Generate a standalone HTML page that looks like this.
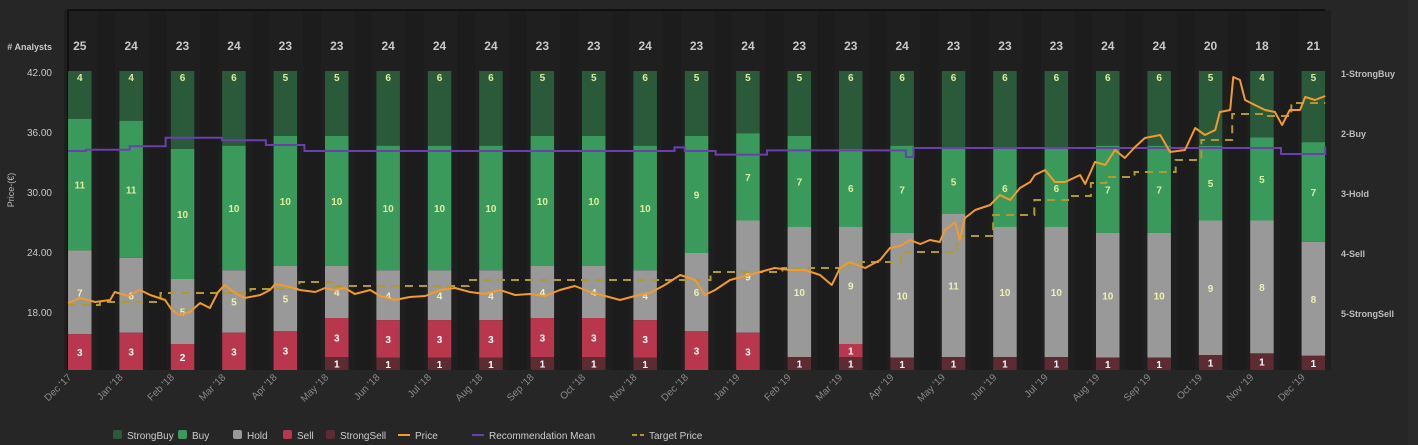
<!DOCTYPE html>
<html><head><meta charset="utf-8"><style>
html,body{margin:0;padding:0;background:#262626;}
svg{display:block;font-family:"Liberation Sans",Arial,sans-serif;}
</style></head><body>
<svg id="c" width="1418" height="445" viewBox="0 0 1418 445"></svg>
<script>
const months=["Dec '17","Jan '18","Feb '18","Mar '18","Apr '18","May '18","Jun '18","Jul '18","Aug '18","Sep '18","Oct '18","Nov '18","Dec '18","Jan '19","Feb '19","Mar '19","Apr '19","May '19","Jun '19","Jul '19","Aug '19","Sep '19","Oct '19","Nov '19","Dec '19"];
const strongBuy=[4,4,6,6,5,5,6,6,6,5,5,6,5,5,5,6,6,6,6,6,6,6,5,4,5];
const buy=[11,11,10,10,10,10,10,10,10,10,10,10,9,7,7,6,7,5,6,6,7,7,5,5,7];
const hold=[7,6,5,5,5,4,4,4,4,4,4,4,6,9,10,9,10,11,10,10,10,10,9,8,8];
const sell=[3,3,2,3,3,3,3,3,3,3,3,3,3,3,0,1,0,0,0,0,0,0,0,0,0];
const strongSell=[0,0,0,0,0,1,1,1,1,1,1,1,0,0,1,1,1,1,1,1,1,1,1,1,1];
const priceTicks=[18,24,30,36,42];
const recTicks=["1-StrongBuy","2-Buy","3-Hold","4-Sell","5-StrongSell"];
const priceT=[0,0.23,0.53,0.82,0.91,1.17,1.40,1.60,1.89,2.02,2.18,2.37,2.57,2.76,2.92,3.05,3.25,3.44,3.74,3.93,4.03,4.32,4.51,4.81,5.00,5.19,5.39,5.58,5.88,6.07,6.36,6.65,6.95,7.24,7.53,7.82,8.11,8.40,8.70,8.99,9.28,9.57,9.86,10.16,10.45,10.74,11.03,11.32,11.61,11.91,12.20,12.39,12.59,12.88,13.17,13.46,13.75,14.05,14.34,14.63,14.86,15.02,15.21,15.51,15.80,15.99,16.19,16.38,16.58,16.77,16.96,17.06,17.26,17.35,17.45,17.65,17.94,18.13,18.33,18.52,18.72,18.81,19.01,19.20,19.40,19.69,19.79,19.98,20.18,20.37,20.56,20.76,20.95,21.25,21.44,21.73,21.93,22.12,22.32,22.41,22.61,22.67,22.80,22.90,23.09,23.29,23.48,23.62,23.77,23.97,24.07,24.26,24.46];
const priceV=[18.9,19.4,19.0,19.2,20.0,19.6,20.2,19.7,19.2,18.2,17.7,18.0,18.9,18.4,20.0,20.7,19.9,19.4,19.7,20.2,20.8,20.5,20.2,20.0,20.4,20.2,20.4,19.8,20.2,19.6,19.2,19.5,19.6,20.2,20.4,20.0,19.8,20.2,19.7,19.8,19.6,20.2,20.6,20.0,19.6,19.2,19.6,19.9,20.7,21.7,21.2,19.7,20.2,21.2,21.6,22.0,22.4,22.2,22.2,21.7,20.7,22.4,23.0,22.4,23.2,24.4,24.6,25.2,24.8,25.2,25.0,26.2,27.0,25.2,27.4,28.2,28.7,29.7,29.2,30.4,31.0,31.7,32.2,31.0,31.0,31.7,30.8,33.0,32.7,34.2,33.4,34.5,35.4,35.7,34.0,34.2,36.4,35.7,36.2,38.0,38.2,41.5,41.2,39.2,38.7,38.2,38.0,36.7,38.2,38.2,39.5,39.2,39.6];
const targetT=[0,0.62,1.80,3.55,4.50,5.20,7.80,12.50,13.90,15.20,16.20,17.30,18.00,18.80,19.50,19.90,20.20,20.75,21.55,22.05,22.65,23.30,23.80,24.46];
const targetV=[18.7,19.0,19.9,20.3,21.0,20.6,21.2,22.0,22.4,23.0,24.0,25.6,27.7,29.2,29.6,30.9,31.5,32.0,33.2,35.2,37.8,37.6,38.9,38.9];
const recT=[0,0.35,1.20,1.90,3.00,3.85,4.60,11.80,12.00,12.60,13.60,16.30,16.45,23.10,23.60,24.46];
const recV=[2.30,2.28,2.22,2.08,2.12,2.20,2.30,2.24,2.30,2.36,2.29,2.40,2.25,2.25,2.35,2.23];

const svg=document.getElementById('c');
const NS='http://www.w3.org/2000/svg';
function mk(tag,attrs,parent){const e=document.createElementNS(NS,tag);for(const k in attrs)e.setAttribute(k,attrs[k]);(parent||svg).appendChild(e);return e;}
const X0=68,X1=1325,Y0=10,Y1=370,MW=51.4,BW=23.5,BT=71,BB=370;
const xT=t=>X0+t*MW;
const yP=p=>72+(42-p)*10;
const yR=r=>73+(r-1)*60;

let e=mk('rect',{x:1408,y:0,width:10,height:445,fill:'#2a2a2a'});

e=mk('rect',{x:X0,y:Y0,width:X1-X0,height:Y1-Y0,fill:'#1c1c1c'});

months.forEach((m,i)=>{const b=mk('rect',{x:xT(i)-4,y:Y0,width:BW+10,height:Y1-Y0,fill:'#1f1f1f'});
});
e=mk('path',{d:`M${X0} ${Y1}V${Y0}H${X1}`,stroke:'#0a0a0a','stroke-width':1.5,fill:'none'});


const series=[[strongBuy,'#2a5a3a','#e3eb9a','strong-buy'],[buy,'#3a9a5c','#e3eb9a','buy'],[hold,'#999999','#f0f0b0','hold'],[sell,'#b8374d','#ffffff','sell'],[strongSell,'#5e2b33','#ffffff','strong-sell']];
months.forEach((m,i)=>{
  const tot=strongBuy[i]+buy[i]+hold[i]+sell[i]+strongSell[i];
  let y=BT;
  series.forEach(([arr,col,lc,nm])=>{
    const v=arr[i];if(!v)return;
    const h=v/tot*(BB-BT);
    const r=mk('rect',{x:xT(i),y:y,width:BW,height:h,fill:col});
    
    const ly=(nm==='strong-buy')?y+10:y+h/2+4;
    const t=mk('text',{x:xT(i)+BW/2,y:ly,'text-anchor':'middle','font-size':10,'font-weight':'bold',fill:lc});
    t.textContent=v;
    
    y+=h;
  });
  const tt=mk('text',{x:xT(i)+BW/2,y:50,'text-anchor':'middle','font-size':12,'font-weight':'bold',fill:'#c8c8c8'});
  tt.textContent=tot;
  
  const xl=mk('text',{x:0,y:0,'text-anchor':'end','font-size':10,fill:'#8a8a8a',transform:`translate(${xT(i)+4},${378}) rotate(-45)`});
  xl.textContent=m;
  
});

e=mk('text',{x:52,y:50,'text-anchor':'end','font-size':9,'font-weight':'bold',fill:'#c8c8c8'});e.textContent='# Analysts';

priceTicks.forEach(p=>{const t=mk('text',{x:52,y:yP(p)+4,'text-anchor':'end','font-size':10,fill:'#c8c8c8'});t.textContent=p.toFixed(2);
});
e=mk('text',{x:0,y:0,'text-anchor':'middle','font-size':9,fill:'#bbbbbb',transform:'translate(14,190) rotate(-90)'});e.textContent='Price-(€)';

recTicks.forEach((r,i)=>{const t=mk('text',{x:1341,y:yR(i+1)+4,'font-size':9,'font-weight':'bold',fill:'#bdbdbd'});t.textContent=r;
});

function stepPath(T,V,fy){let d='';T.forEach((t,i)=>{const x=xT(t),y=fy(V[i]);if(i===0)d+=`M${x} ${y}`;else d+=`H${x}V${y}`;});return d;}
e=mk('path',{d:stepPath(targetT,targetV,yP),stroke:'#b09a30','stroke-width':2,fill:'none','stroke-dasharray':'8,6'});

e=mk('path',{d:stepPath(recT,recV,yR),stroke:'#6a3fb0','stroke-width':2,fill:'none'});

e=mk('path',{d:priceT.map((t,i)=>(i?'L':'M')+xT(t)+' '+yP(priceV[i])).join(''),stroke:'#f39a2c','stroke-width':2,fill:'none','stroke-linejoin':'round'});


const lg=[['sq','#2a5a3a','StrongBuy',113],['sq','#3a9a5c','Buy',178],['sq','#999999','Hold',233],['sq','#b8374d','Sell',283],['sq','#5e2b33','StrongSell',326],['ln','#f39a2c','Price',398],['ln','#6a3fb0','Recommendation Mean',472],['ds','#b09a30','Target Price',632]];
lg.forEach(([k,c,l,x])=>{
  const g=mk('g',{});
  
  let tx;
  if(k==='sq'){mk('rect',{x:x,y:430,width:9,height:9,rx:2,fill:c},g);tx=x+14;}
  else{mk('line',{x1:x,y1:435,x2:x+12,y2:435,stroke:c,'stroke-width':2,'stroke-dasharray':k==='ds'?'5,3':'none'},g);tx=x+17;}
  const t=mk('text',{x:tx,y:439,'font-size':10,fill:'#cccccc'},g);t.textContent=l;
});
</script>
</body></html>
